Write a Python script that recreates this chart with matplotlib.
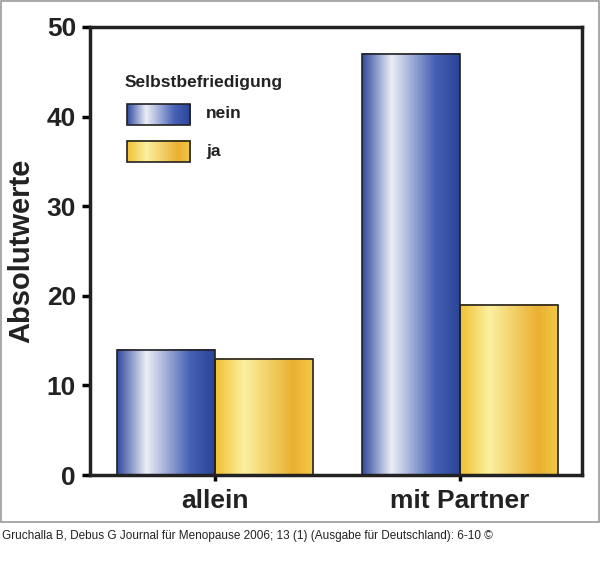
import numpy as np
import matplotlib.pyplot as plt
from matplotlib.colors import LinearSegmentedColormap
from matplotlib.patches import Rectangle

plt.rcParams['font.family'] = ['Liberation Sans', 'DejaVu Sans']

categories = ["allein", "mit Partner"]
nein = [14, 47]
ja = [13, 19]
series_names = ["nein", "ja"]

blue = LinearSegmentedColormap.from_list("b", [(0, "#2f4aa0"), (0.3, "#eceef6"), (0.75, "#4560b4"), (1, "#2a4498")])
yellow = LinearSegmentedColormap.from_list("y", [(0, "#f0c030"), (0.3, "#fbf0a0"), (0.8, "#eab030"), (1, "#f3c848")])
grad = np.linspace(0, 1, 256).reshape(1, -1)

fig = plt.figure(figsize=(6, 5.84), dpi=100)
fig.add_artist(Rectangle((0.001, 0.107), 0.997, 0.891, transform=fig.transFigure,
                         fill=False, edgecolor="#999999", lw=1.2))
ax = fig.add_axes([0.15, 0.1866, 0.82, 0.7672])

def gbar(x0, x1, y0, y1, cmap):
    ax.imshow(grad, cmap=cmap, extent=(x0, x1, y0, y1), aspect="auto", zorder=2)
    ax.add_patch(Rectangle((x0, y0), x1 - x0, y1 - y0, fill=False, edgecolor="#222222", lw=1.2, zorder=3))

w = 0.4
x = np.arange(len(categories))
for i in x:
    gbar(i - w, i, 0, nein[i], blue)
    gbar(i, i + w, 0, ja[i], yellow)

# legend
ax.text(-0.37, 43.8, "Selbstbefriedigung", fontsize=12.5, fontweight="bold", color="#222222", va="center")
gbar(-0.36, -0.10, 39.1, 41.4, blue)
gbar(-0.36, -0.10, 34.9, 37.3, yellow)
ax.text(-0.035, 40.3, series_names[0], fontsize=12.5, fontweight="bold", color="#222222", va="center")
ax.text(-0.035, 36.1, series_names[1], fontsize=12.5, fontweight="bold", color="#222222", va="center")

ax.set_xlim(-0.51, 1.5)
ax.set_ylim(0, 50)
ax.set_xticks(x)
ax.set_xticklabels(categories, fontsize=19, fontweight="bold", color="#222222")
ax.set_yticks([0, 10, 20, 30, 40, 50])
ax.set_yticklabels(["0", "10", "20", "30", "40", "50"], fontsize=19, fontweight="bold", color="#222222")
ax.set_ylabel("Absolutwerte", fontsize=21, fontweight="bold", color="#222222", labelpad=8)
ax.tick_params(axis="y", length=6, width=2.5, pad=4)
ax.tick_params(axis="x", length=4, width=2.5, pad=6)
for s in ax.spines.values():
    s.set_linewidth(2.5)
    s.set_color("#222222")

fig.text(0.003, 0.082, "Gruchalla B, Debus G Journal für Menopause 2006; 13 (1) (Ausgabe für Deutschland): 6-10 ©",
         fontsize=8.5, color="#222222", va="center")

fig.savefig("out.png", dpi=100)
